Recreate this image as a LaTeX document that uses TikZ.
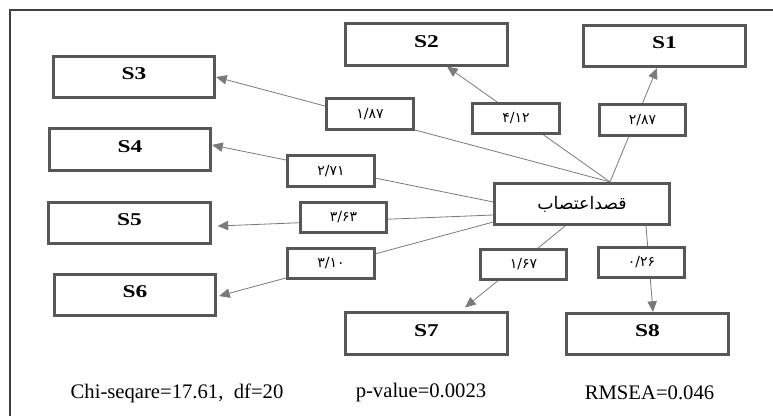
\documentclass[tikz,border=0pt]{standalone}
\usepackage{fontspec}
\setmainfont{Liberation Serif}
\newfontfamily\arabicfont[Script=Arabic]{DejaVu Sans}
\TeXXeTstate=1
\usetikzlibrary{arrows.meta,calc}
\definecolor{boxgray}{HTML}{575757}
\definecolor{linegray}{HTML}{7A7A7A}
\definecolor{framegray}{HTML}{404040}
\newcommand\widetext[1]{\scalebox{1.3}[1]{#1}}
\tikzset{
	var/.style={draw=boxgray,line width=2.1pt,fill=white,minimum width=121pt,minimum height=31pt,inner sep=0pt,text height=9pt,text depth=5pt,font=\fontsize{13.5}{15}\selectfont\bfseries},
	coef/.style={draw=boxgray,line width=2.1pt,fill=white,minimum width=65pt,minimum height=23pt,inner sep=0pt,font=\fontsize{10.5}{12}\selectfont\arabicfont},
	path/.style={draw=linegray,line width=0.6pt,-{Triangle[length=8pt,width=7pt]}},
	fit/.style={font=\fontsize{15.5}{17}\selectfont}
}
\begin{document}
\begin{tikzpicture}[x=0.75pt,y=-0.75pt]
			\useasboundingbox (0,0) rectangle (773,415);
			\draw[framegray,line width=0.8pt] (10,10) rectangle (800,440);
			% observed variables
			\node (S1) at (664.5,46) [var] {\widetext{S1}};
			\node (S2) at (426.5,44.5) [var] {\widetext{S2}};
			\node (S3) at (134,77) [var] {\widetext{S3}};
			\node (S4) at (130,149.5) [var] {\widetext{S4}};
			\node (S5) at (129.5,223) [var] {\widetext{S5}};
			\node (S6) at (135,295) [var] {\widetext{S6}};
			\node (S7) at (426.5,333.5) [var] {\widetext{S7}};
			\node (S8) at (647.5,334) [var] {\widetext{S8}};
			% latent variable
			\node (c) at (582,204) [var,minimum width=131pt,text height=,text depth=,font=\fontsize{13}{15}\selectfont\arabicfont] {\beginR قصداعتصاب\endR};
			% paths
			\draw[path] ($(c.north)+(28,0)$) -- ($(S1.south)+(-7.5,0)$);
			\draw[path] ($(c.north)+(28,0)$) -- ($(S2.south)+(20.5,0)$);
			\draw[path] ($(c.north)+(28,0)$) -- (S3.east);
			\draw[path] ($(c.west)+(0,-2)$) -- ($(S4.east)+(0,-4.5)$);
			\draw[path] ($(c.west)+(0,11)$) -- ($(S5.east)+(6,3)$);
			\draw[path] ($(c.west)+(0,18)$) -- ($(S6.east)+(2,1)$);
			\draw[path] ($(c.south)+(-17,0)$) -- ($(S7.north)+(38.5,-4)$);
			\draw[path] ($(c.south)+(64,0)$) -- ($(S8.north)+(5.5,0)$);
			% loadings
			\node (l1) at (642.5,120) [coef] {۲/۸۷};
			\node (l2) at (516,118.5) [coef] {۴/۱۲};
			\node (l3) at (370,114) [coef] {۱/۸۷};
			\node (l4) at (331,171) [coef] {۲/۷۱};
			\node (l5) at (343.5,217.5) [coef] {۳/۶۳};
			\node (l6) at (331,263.5) [coef] {۳/۱۰};
			\node (l7) at (523.5,264.5) [coef] {۱/۶۷};
			\node (l8) at (641.5,262.5) [coef] {۰/۲۶};
			% fit indices
			\node (chi) at (177,393) [fit] {Chi-seqare=17.61,\ \ df=20};
			\node (pval) at (421,393) [fit] {p-value=0.0023};
			\node (rmsea) at (649.5,393) [fit] {RMSEA=0.046};
\end{tikzpicture}
\end{document}
